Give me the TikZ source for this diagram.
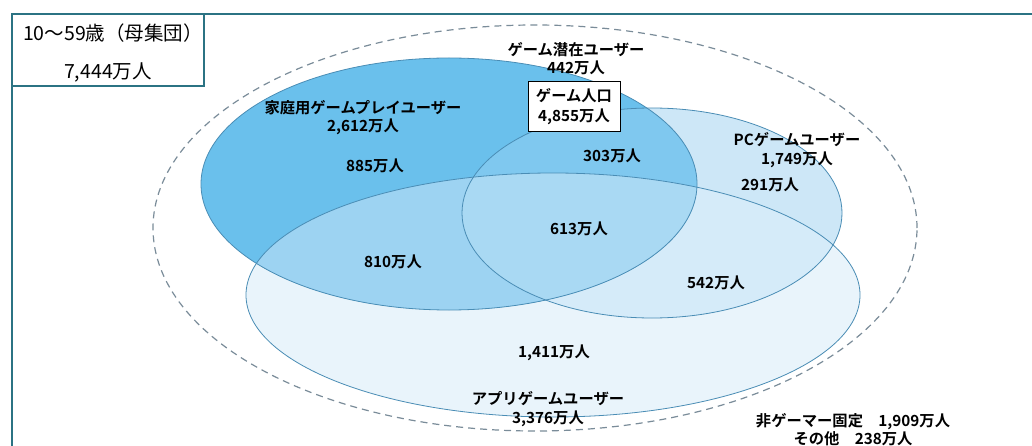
\documentclass[tikz,border=0pt]{standalone}
\usepackage{fontspec}
\newfontfamily\jpfont{Noto Sans CJK JP}
\newfontfamily\jpbold{Noto Sans CJK JP Bold}
\definecolor{frameC}{HTML}{2B7383}
\definecolor{appC}{HTML}{E9F4FB}
\definecolor{pcC}{HTML}{CDE7F7}
\definecolor{pcappC}{HTML}{D5EBF9}
\definecolor{conC}{HTML}{6AC0EC}
\definecolor{conpcC}{HTML}{7FC8EF}
\definecolor{conappC}{HTML}{9DD3F2}
\definecolor{allC}{HTML}{A9D9F3}
\definecolor{edgeC}{HTML}{4A8DB5}
\definecolor{dashC}{HTML}{7A8C99}
\tikzset{
  lbl/.style={align=center, inner sep=0pt, font=\jpbold\fontsize{15.3}{18.5}\selectfont, text=black},
  ttl/.style={inner sep=0pt, font=\jpfont\fontsize{19.5}{24}\selectfont, text=black},
  popbox/.style={draw=black, line width=1pt, fill=white, minimum width=92pt, minimum height=50pt, align=center, inner sep=0pt, font=\jpbold\fontsize{15.3}{20}\selectfont},
  outline/.style={draw=edgeC, line width=0.8pt},
}
\begin{document}
\begin{tikzpicture}[x=1pt,y=-1pt]
\useasboundingbox (0,0) rectangle (1032,446);
\fill[white] (0,0) rectangle (1032,446);
% frame
\draw[frameC, line width=1.5pt] (12,446) -- (12,14) -- (1032,14);
\draw[frameC, line width=1.5pt] (12,14) rectangle (204,86);
% dashed population ellipse
\draw[dashC, line width=1.2pt, dash pattern=on 7pt off 5pt] (535,228) ellipse [x radius=382pt, y radius=203pt];
% region fills
\fill[appC] (553,295) ellipse [x radius=307pt, y radius=122pt];
\fill[pcC] (652,213) ellipse [x radius=190pt, y radius=105pt];
\begin{scope}
  \clip (652,213) ellipse [x radius=190pt, y radius=105pt];
  \fill[pcappC] (553,295) ellipse [x radius=307pt, y radius=122pt];
\end{scope}
\fill[conC] (449,184) ellipse [x radius=248pt, y radius=126pt];
\begin{scope}
  \clip (449,184) ellipse [x radius=248pt, y radius=126pt];
  \fill[conpcC] (652,213) ellipse [x radius=190pt, y radius=105pt];
  \fill[conappC] (553,295) ellipse [x radius=307pt, y radius=122pt];
  \clip (652,213) ellipse [x radius=190pt, y radius=105pt];
  \fill[allC] (553,295) ellipse [x radius=307pt, y radius=122pt];
\end{scope}
% outlines
\draw[outline] (449,184) ellipse [x radius=248pt, y radius=126pt];
\draw[outline] (652,213) ellipse [x radius=190pt, y radius=105pt];
\draw[outline] (553,295) ellipse [x radius=307pt, y radius=122pt];
% title
\node[ttl] (t1) at (113,33) {10～59歳（母集団）};
\node[ttl] (t2) at (108,72) {7,444万人};
% labels
\node[lbl] (pot) at (576,58.5) {ゲーム潜在ユーザー\\442万人};
\node[popbox] (pop) at (574,107) {ゲーム人口\\4,855万人};
\node[lbl] (con) at (363,117.5) {家庭用ゲームプレイユーザー\\2,612万人};
\node[lbl] (pc) at (797,150) {PCゲームユーザー\\1,749万人};
\node[lbl] (app) at (548,409) {アプリゲームユーザー\\3,376万人};
\node[lbl] (non) at (853,429.5) {非ゲーマー固定\hspace{1em}1,909万人\\その他\hspace{1em}238万人};
\node[lbl] (n885) at (375,166) {885万人};
\node[lbl] (n303) at (612,156) {303万人};
\node[lbl] (n291) at (770,185) {291万人};
\node[lbl] (n613) at (579,229) {613万人};
\node[lbl] (n810) at (393,262) {810万人};
\node[lbl] (n542) at (716,283) {542万人};
\node[lbl] (n1411) at (554,353) {1,411万人};
\end{tikzpicture}
\end{document}
